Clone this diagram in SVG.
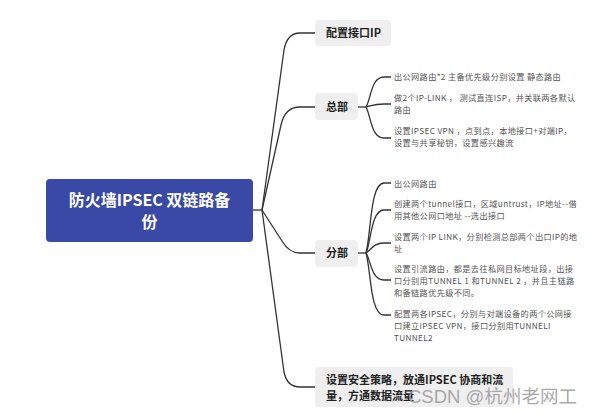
<svg xmlns="http://www.w3.org/2000/svg" width="592" height="414" viewBox="0 0 592 414">
<style>
.box{fill:#efefef}
.l1{font-family:"Noto Sans CJK SC","Liberation Sans",sans-serif;font-size:11px;font-weight:bold;fill:#222}
.leaf{font-family:"Noto Sans CJK SC","Liberation Sans",sans-serif;font-size:8.2px;letter-spacing:0.35px;fill:#555}
.root{font-family:"Noto Sans CJK SC","Liberation Sans",sans-serif;font-size:16px;font-weight:bold;fill:#fff}
.c{fill:none;stroke:#333;stroke-width:1.3}
</style>
<rect width="592" height="414" fill="#fff"/>
<g id="connectors">
<path class="c" d="M253,210 H262"/>
<path class="c" d="M262,210 L284,50 Q287,33 300,33 H315"/>
<path class="c" d="M262,210 L281,125 Q285,107 300,107 H315"/>
<path class="c" d="M262,210 L282,241 Q289,253 300,253 H315"/>
<path class="c" d="M262,210 L284,372 Q287,387 300,387 H315"/>
<path class="c" d="M358,107 H366"/>
<path class="c" d="M366,107 C371,99 371,77 384,77 H391"/>
<path class="c" d="M366,107 C371,106 374,104 384,104 H391"/>
<path class="c" d="M366,107 C371,116 371,138 384,138 H391"/>
<path class="c" d="M358,253 H366"/>
<path class="c" d="M366,253 C371,235 370,183 384,183 H391"/>
<path class="c" d="M366,253 C371,243 371,210 384,210 H391"/>
<path class="c" d="M366,253 C371,250 373,243 384,243 H391"/>
<path class="c" d="M366,253 C371,260 371,280 384,280 H391"/>
<path class="c" d="M366,253 C371,270 370,315 384,315 H391"/>
</g>
<g id="root">
<rect x="46" y="179" width="207" height="63" rx="4" fill="#3a48a6"/>
<text class="root" text-anchor="middle"><tspan x="149.5" y="206">防火墙IPSEC 双链路备</tspan><tspan x="149.5" y="228">份</tspan></text>
</g>
<g id="n-config">
<rect class="box" x="315" y="20" width="76" height="26" rx="4"/>
<text class="l1" x="326" y="37">配置接口IP</text>
</g>
<g id="n-hq">
<rect class="box" x="315" y="93" width="43" height="27" rx="4"/>
<text class="l1" x="326" y="111">总部</text>
</g>
<g id="n-branch">
<rect class="box" x="315" y="240" width="43" height="27" rx="4"/>
<text class="l1" x="326" y="257">分部</text>
</g>
<g id="n-policy">
<rect class="box" x="315" y="367" width="198" height="40" rx="4"/>
<text class="l1"><tspan x="326" y="384">设置安全策略，放通IPSEC 协商和流</tspan><tspan x="326" y="400">量，方通数据流量</tspan></text>
</g>
<g id="hq-leaves">
<text class="leaf" x="394" y="80">出公网路由*2 主备优先级分别设置  静态路由</text>
<text class="leaf"><tspan x="394" y="101">做2个IP-LINK ， 测试直连ISP，并关联两各默认</tspan><tspan x="394" y="113">路由</tspan></text>
<text class="leaf"><tspan x="394" y="134">设置IPSEC VPN ，点到点，本地接口+对端IP，</tspan><tspan x="394" y="146">设置与共享秘钥，设置感兴趣流</tspan></text>
</g>
<g id="branch-leaves">
<text class="leaf" x="394" y="187">出公网路由</text>
<text class="leaf"><tspan x="394" y="207">创建两个tunnel接口，区域untrust，IP地址--借</tspan><tspan x="394" y="219">用其他公网口地址 --选出接口</tspan></text>
<text class="leaf"><tspan x="394" y="240">设置两个IP LINK，分别检测总部两个出口IP的地</tspan><tspan x="394" y="252">址</tspan></text>
<text class="leaf"><tspan x="394" y="272">设置引流路由，都是去往私网目标地址段，出接</tspan><tspan x="394" y="284">口分别用TUNNEL 1 和TUNNEL 2 ，并且主链路</tspan><tspan x="394" y="296">和备链路优先级不同。</tspan></text>
<text class="leaf"><tspan x="394" y="317">配置两各IPSEC，分别与对端设备的两个公网接</tspan><tspan x="394" y="329">口建立IPSEC VPN，接口分别用TUNNELI</tspan><tspan x="394" y="341">TUNNEL2</tspan></text>
</g>
<text x="408" y="403" font-family="'Liberation Sans','Noto Sans CJK SC',sans-serif" font-size="18.5" fill="#9a9a9a" fill-opacity="0.85" textLength="169" lengthAdjust="spacingAndGlyphs">CSDN @杭州老网工</text>
</svg>
